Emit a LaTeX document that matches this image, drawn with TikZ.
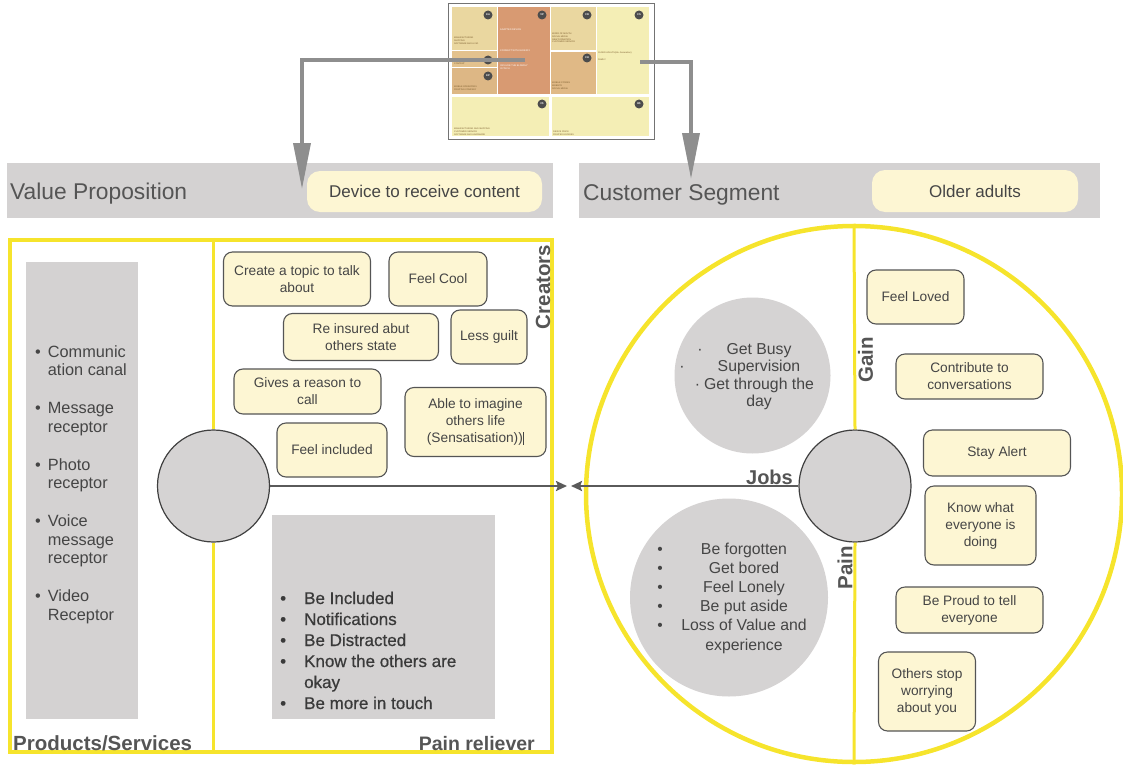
\documentclass[tikz,border=0pt]{standalone}
\usepackage{fontspec}
\setmainfont{Liberation Sans}
\newfontfamily\medfont{Liberation Sans}[FakeBold=0.6]
\usetikzlibrary{arrows.meta}
\definecolor{bar}{HTML}{D4D2D2}
\definecolor{cream}{HTML}{FDF6D3}
\definecolor{ylw}{HTML}{F6E42C}
\definecolor{cgray}{HTML}{D5D3D3}
\definecolor{txt}{HTML}{454545}
\definecolor{txtb}{HTML}{3A3A3A}
\definecolor{hdr}{HTML}{555555}
\definecolor{edge}{HTML}{555555}
\definecolor{agray}{HTML}{8E8E8E}
\definecolor{conncol}{HTML}{5A5A5A}
\definecolor{tka}{HTML}{EAD7A0}
\definecolor{tkr}{HTML}{E3C28E}
\definecolor{tkp}{HTML}{DDB785}
\definecolor{tvp}{HTML}{D89A72}
\definecolor{tch}{HTML}{E0B986}
\definecolor{tcs}{HTML}{F4EEB5}
\definecolor{tinytxt}{HTML}{7A5C2E}
\begin{document}
\begin{tikzpicture}[x=1pt,y=-1pt,
  cbox/.style={draw=edge, line width=1.1pt, fill=cream, rounded corners=9pt, align=center, text=txt, font=\fontsize{13.7}{17}\selectfont, inner sep=1pt},
  pill/.style={fill=cream, rounded corners=13pt, text=txt, font=\fontsize{17}{19}\selectfont, inner sep=0},
  hbar/.style={fill=bar, draw=none, inner sep=0},
  head/.style={text=hdr, font=\fontsize{22.8}{25}\selectfont, anchor=base west, inner sep=0},
  blab/.style={text=hdr, font=\bfseries\fontsize{19.5}{22}\selectfont, inner sep=0},
  softcirc/.style={circle, fill=cgray, draw=none, inner sep=0},
  hub/.style={circle, fill=cgray, draw=black!75, line width=1.2pt, minimum size=112, inner sep=0},
  yframe/.style={draw=ylw, line width=4.5pt, inner sep=0},
  yline/.style={draw=ylw, line width=3pt},
  conn/.style={draw=conncol, line width=2.2pt, -{Stealth[length=11pt,width=10pt,inset=2pt]}},
  thumbarrow/.style={draw=agray, line width=3.5pt, -{Triangle[length=46pt,width=17pt]}},
  tiny/.style={font=\fontsize{2.2}{2.7}\selectfont, text=tinytxt, align=left, anchor=north west, inner sep=0},
  tinyw/.style={font=\fontsize{2.4}{2.9}\selectfont, text=white, align=left, anchor=north west, inner sep=0},
  dot/.style={circle, fill=black!70, minimum size=9, inner sep=0, text=white, font=\bfseries\fontsize{2.6}{3}\selectfont},
  listtxt/.style={text=txt, inner sep=0}
]
\useasboundingbox (0,0) rectangle (1123,765);

% ---------- thumbnail canvas ----------
\fill[white] (448,4) rectangle (654,139);
\fill[tka] (452,7) rectangle (497,50);
\fill[tkr] (452,51) rectangle (497,67);
\fill[tkp] (452,68) rectangle (497,94);
\fill[tvp] (498,7) rectangle (550,94);
\fill[tka] (551,7) rectangle (596,50);
\fill[tch] (551,52) rectangle (596,94);
\fill[tcs] (597,7) rectangle (649,94);
\fill[tcs] (452,97) rectangle (549,136);
\fill[tcs] (552,97) rectangle (649,136);
\draw[black!55, line width=1pt] (448,4) rectangle (654,139);
\node[tiny] (tka) at (454,37) {MANUFACTURING\\SHIPPING\\SOFTWARE AND HI SO};
\node[tiny] (tkr) at (454,63) {CONTENT};
\node[tiny] (tkp) at (454,86) {MOBILE OPERATORS\\PRINTING COMPANY};
\node[tinyw] (tvp1) at (500,29) {ADAPTED DEVICE};
\node[tinyw] (tvp2) at (500,50) {CONNECT WITH ELDERLY};
\node[tinyw] (tvp3) at (500,65) {INCLUDE THE ELDERLY\\IN TECH};
\node[tiny] (tcr) at (552,33) {WORD OF MOUTH\\SOCIAL MEDIA\\NEW FORMATION\\CUSTOMER SERVICE};
\node[tiny] (tcs) at (598,52) {OLDER ADULTS(65+ Generation)};
\node[tiny] (tcs2) at (598,59) {FAMILY};
\node[tiny] (tch) at (552,82) {MOBILE STORES\\WEBSITE\\SOCIAL MEDIA};
\node[tiny] (tcost) at (454,128) {MANUFACTURING AND SHIPPING\\CUSTOMER SERVICE\\SOFTWARE AND HARDWARE};
\node[tiny] (trev) at (553,131) {DEVICE PRICE\\PRINTED GOODIES};
\node[dot] (dka) at (488,15) {KA};
\node[dot] (dvp) at (542,15) {VP};
\node[dot] (dcr) at (587,15) {CR};
\node[dot] (dcs) at (639,15) {CS};
\node[dot] (dkr) at (488,60) {KR};
\node[dot] (dkp) at (488,76) {KP};
\node[dot] (dch) at (587,58) {CH};
\node[dot] (dcost) at (542,104) {C\$};
\node[dot] (drev) at (639,104) {R\$};

% ---------- header bars ----------
\node[hbar, minimum width=546, minimum height=55] (vpbar) at (280,190.5) {};
\node[hbar, minimum width=521, minimum height=55] (csbar) at (839.5,190.5) {};
\node[head] (vptitle) at (10,199) {Value Proposition};
\node[head] (cstitle) at (583,200) {Customer Segment};
\node[pill, minimum width=235, minimum height=41] (vppill) at (424.5,191.5) {Device to receive content};
\node[pill, minimum width=206, minimum height=42] (cspill) at (975,191) {Older adults};

% thumbnail arrows
\coordinate (thL) at (525,60);
\coordinate (vptip) at (302,189);
\coordinate (thR) at (640,62);
\coordinate (cstip) at (691,179);
\draw[thumbarrow] (thL) -| (vptip);
\draw[thumbarrow] (thR) -| (cstip);

% ---------- value proposition frame ----------
\node[yframe, minimum width=542, minimum height=512] (vpframe) at (281,496) {};
\node[hub] (pcirc) at (213.5,486) {};
\draw[yline] (vpframe.north -| pcirc) -- (pcirc.north);
\draw[yline] (pcirc.south) -- (vpframe.south -| pcirc);

\node[hbar, minimum width=111.5, minimum height=457] (psrect) at (81.75,490.5) {};
\node[listtxt, anchor=base west, font=\fontsize{16.3}{18.5}\selectfont] (pslist) at (35,357)
{\begin{tabular}[t]{@{}l@{\hspace{7pt}}l@{}}
\textbullet & Communic\\ & ation canal\\[19.5pt]
\textbullet & Message\\ & receptor\\[19.5pt]
\textbullet & Photo\\ & receptor\\[19.5pt]
\textbullet & Voice\\ & message\\ & receptor\\[19.5pt]
\textbullet & Video\\ & Receptor
\end{tabular}};

\node[cbox, minimum width=147, minimum height=54] (cr1) at (297,279) {Create a topic to talk\\about};
\node[cbox, minimum width=98, minimum height=54] (cr2) at (438,279) {Feel Cool};
\node[cbox, minimum width=155, minimum height=47] (cr3) at (361,337) {Re insured abut\\others state};
\node[cbox, minimum width=76, minimum height=54] (cr4) at (489,337) {Less guilt};
\node[cbox, minimum width=147, minimum height=45] (cr5) at (307.5,391.5) {Gives a reason to\\call};
\node[cbox, minimum width=141, minimum height=69] (cr6) at (475.5,422) {Able to imagine\\others life\\(Sensatisation))\rule[-2pt]{1.2pt}{13pt}};
\node[cbox, minimum width=110, minimum height=54] (cr7) at (332,450) {Feel included};
\node[blab, rotate=90, font=\bfseries\fontsize{20.5}{22}\selectfont] (creators) at (543,287) {Creators};

\node[hbar, minimum width=223, minimum height=204] (prrect) at (383.5,617) {};
\node[anchor=base west, text=txtb, inner sep=0, font=\medfont\fontsize{17}{21}\selectfont] (prlist) at (280,604)
{\begin{tabular}[t]{@{}l@{\hspace{18pt}}l@{}}
\textbullet & Be Included\\
\textbullet & Notifications\\
\textbullet & Be Distracted\\
\textbullet & Know the others are\\
 & okay\\
\textbullet & Be more in touch
\end{tabular}};

\node[blab, anchor=base west, font=\bfseries\fontsize{20.5}{22}\selectfont] (pslabel) at (13,750) {Products/Services};
\node[blab, anchor=base east, font=\bfseries\fontsize{19.5}{22}\selectfont] (prlabel) at (535,750) {Pain reliever};

% ---------- customer segment circle ----------
\node[yframe, circle, minimum size=536] (csframe) at (854,494) {};
\node[hub] (jcirc) at (855,486) {};
\draw[yline] (csframe.north) -- (jcirc.north);
\draw[yline] (jcirc.south) -- (csframe.south);

\node[softcirc, minimum size=156] (jobsc) at (752.5,375.5) {};
\node[listtxt, anchor=base, font=\fontsize{15.8}{17.5}\selectfont] (jobstxt) at (759,354)
{\begin{tabular}[t]{@{}c@{}}
\llap{\textperiodcentered\hspace{24pt}}Get Busy\\
\llap{\textperiodcentered\hspace{33pt}}Supervision\\
\llap{\textperiodcentered\hspace{4pt}}Get through the\\
day
\end{tabular}};

\node[softcirc, minimum size=198] (painc) at (729,597.5) {};
\node[listtxt, anchor=base, font=\fontsize{15.8}{19.2}\selectfont] (paintxt) at (744,554)
{\begin{tabular}[t]{@{}c@{}}
Be forgotten\\ Get bored\\ Feel Lonely\\ Be put aside\\ Loss of Value and\\ experience
\end{tabular}};
\node[listtxt, anchor=base, font=\fontsize{15.5}{19.2}\selectfont] (painbul) at (660,554)
{\begin{tabular}[t]{@{}c@{}}
\textbullet\\ \textbullet\\ \textbullet\\ \textbullet\\ \textbullet
\end{tabular}};

\node[blab, rotate=90, font=\bfseries\fontsize{20.5}{22}\selectfont] (gainlab) at (865.5,360) {Gain};
\node[blab, rotate=90, font=\bfseries\fontsize{20.5}{22}\selectfont] (painlab) at (845,568) {Pain};
\node[blab, anchor=base east, font=\bfseries\fontsize{20}{22}\selectfont] (jobslab) at (793,484) {Jobs};

\node[cbox, minimum width=97, minimum height=54] (g1) at (915.5,297) {Feel Loved};
\node[cbox, minimum width=147, minimum height=45] (g2) at (969.5,376.5) {Contribute to\\conversations};
\node[cbox, minimum width=147, minimum height=46] (g3) at (997,453) {Stay Alert};
\node[cbox, minimum width=111, minimum height=79] (g4) at (980.5,525.5) {Know what\\everyone is\\doing};
\node[cbox, minimum width=147, minimum height=46] (g5) at (969.5,610) {Be Proud to tell\\everyone};
\node[cbox, minimum width=97, minimum height=79] (g6) at (927,691.5) {Others stop\\worrying\\about you};

% ---------- central connectors ----------
\coordinate (midL) at (567,486);
\coordinate (midR) at (571,486);
\draw[conn] (pcirc.east) -- (midL);
\draw[conn] (jcirc.west) -- (midR);
\end{tikzpicture}
\end{document}
